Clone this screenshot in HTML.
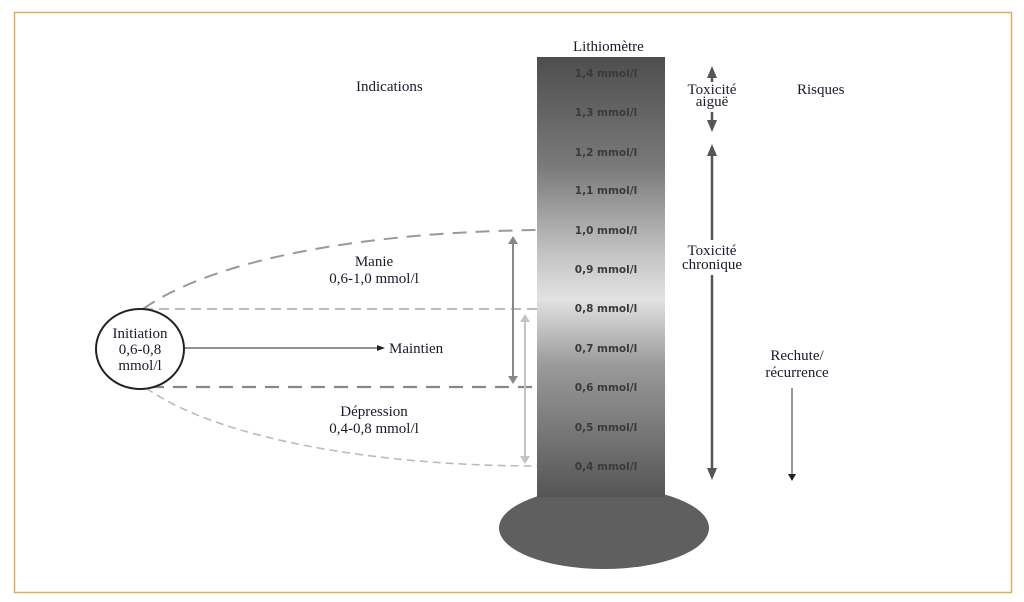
<!DOCTYPE html>
<html><head><meta charset="utf-8"><style>
html,body{margin:0;padding:0;background:#fff}
svg{display:block}
text{font-family:"Liberation Serif",serif;fill:#1a1a2a}
.m text{font-family:"DejaVu Sans","Liberation Sans",sans-serif;font-weight:bold;font-size:10.5px;fill:#3a3a3a}
</style></head><body>
<svg width="1024" height="602" viewBox="0 0 1024 602">
<defs>
<linearGradient id="g" x1="0" y1="0" x2="0" y2="1">
<stop offset="0" stop-color="#4e4e4e"/>
<stop offset="0.25" stop-color="#7a7a7a"/>
<stop offset="0.45" stop-color="#c4c4c4"/>
<stop offset="0.55" stop-color="#e2e2e2"/>
<stop offset="0.7" stop-color="#9a9a9a"/>
<stop offset="1" stop-color="#555"/>
</linearGradient>
<marker id="ak" markerWidth="8" markerHeight="8" refX="7" refY="3" orient="auto" markerUnits="userSpaceOnUse"><path d="M0,0 L8,3 L0,6 z" fill="#222"/></marker>
<marker id="ab" markerWidth="12" markerHeight="10" refX="6" refY="5" orient="auto" markerUnits="userSpaceOnUse"><path d="M0,0 L12,5 L0,10 z" fill="#555"/></marker>
</defs>
<rect x="14.5" y="12.5" width="997" height="580" fill="#fff" stroke="#d9b060" stroke-width="1.5"/>
<ellipse cx="604" cy="528" rx="105" ry="41" fill="#5f5f5f"/>
<rect x="537" y="57" width="128" height="440" fill="url(#g)"/>
<g class="m" text-anchor="middle">
<text x="606" y="77">1,4 mmol/l</text>
<text x="606" y="116">1,3 mmol/l</text>
<text x="606" y="156">1,2 mmol/l</text>
<text x="606" y="194">1,1 mmol/l</text>
<text x="606" y="234">1,0 mmol/l</text>
<text x="606" y="273">0,9 mmol/l</text>
<text x="606" y="312">0,8 mmol/l</text>
<text x="606" y="352">0,7 mmol/l</text>
<text x="606" y="391">0,6 mmol/l</text>
<text x="606" y="431">0,5 mmol/l</text>
<text x="606" y="470">0,4 mmol/l</text>
</g>
<g font-size="15">
<text x="573" y="51">Lithiomètre</text>
<text x="356" y="91">Indications</text>
<text x="797" y="94">Risques</text>
</g>
<line x1="712" y1="82" x2="712" y2="72" stroke="#555" stroke-width="2.5" marker-end="url(#ab)"/>
<line x1="712" y1="112" x2="712" y2="126" stroke="#555" stroke-width="2.5" marker-end="url(#ab)"/>
<text x="712" y="94" font-size="15" text-anchor="middle">Toxicité</text>
<text x="712" y="106" font-size="15" text-anchor="middle">aiguë</text>
<line x1="712" y1="240" x2="712" y2="150" stroke="#555" stroke-width="2.5" marker-end="url(#ab)"/>
<line x1="712" y1="275" x2="712" y2="474" stroke="#555" stroke-width="2.5" marker-end="url(#ab)"/>
<text x="712" y="255" font-size="15" text-anchor="middle">Toxicité</text>
<text x="712" y="269" font-size="15" text-anchor="middle">chronique</text>
<text x="797" y="360" font-size="15" text-anchor="middle">Rechute/</text>
<text x="797" y="377" font-size="15" text-anchor="middle">récurrence</text>
<line x1="792" y1="388" x2="792" y2="476" stroke="#555" stroke-width="1.2"/>
<path d="M788,474 L796,474 L792,481 z" fill="#222"/>
<path d="M143,309 C220,255 380,232 537,230" fill="none" stroke="#999" stroke-width="2" stroke-dasharray="14,9"/>
<line x1="143" y1="309" x2="537" y2="309" stroke="#bbb" stroke-width="2" stroke-dasharray="10,6"/>
<line x1="150" y1="387" x2="537" y2="387" stroke="#888" stroke-width="2.2" stroke-dasharray="14,9"/>
<path d="M146,388 C220,440 380,466 537,466" fill="none" stroke="#bbb" stroke-width="1.6" stroke-dasharray="8,5"/>
<line x1="513" y1="244" x2="513" y2="376" stroke="#888" stroke-width="2"/>
<path d="M508,244 L518,244 L513,236 z M508,376 L518,376 L513,384 z" fill="#888"/>
<line x1="525" y1="322" x2="525" y2="456" stroke="#c4c4c4" stroke-width="2"/>
<path d="M520,322 L530,322 L525,314 z M520,456 L530,456 L525,464 z" fill="#c4c4c4"/>
<ellipse cx="140" cy="349" rx="44" ry="40" fill="#fff" stroke="#222" stroke-width="2"/>
<g font-size="15" text-anchor="middle">
<text x="140" y="338">Initiation</text>
<text x="140" y="354">0,6-0,8</text>
<text x="140" y="370">mmol/l</text>
<text x="374" y="266">Manie</text>
<text x="374" y="283">0,6-1,0 mmol/l</text>
<text x="374" y="416">Dépression</text>
<text x="374" y="433">0,4-0,8 mmol/l</text>
</g>
<line x1="184" y1="348" x2="384" y2="348" stroke="#222" stroke-width="1" marker-end="url(#ak)"/>
<text x="389" y="353" font-size="15">Maintien</text>
</svg>
</body></html>
